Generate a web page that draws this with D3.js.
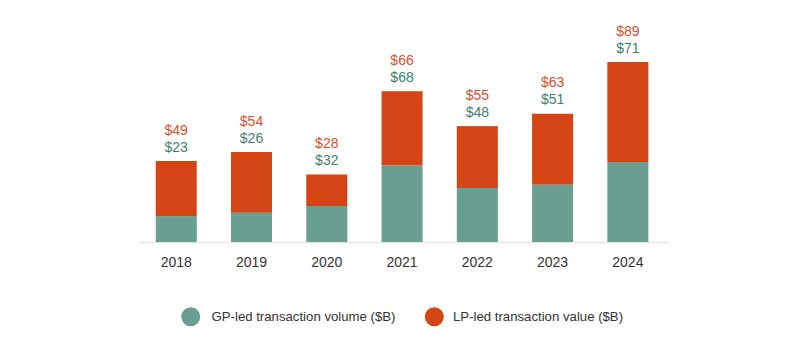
<!DOCTYPE html>
<html><head><meta charset="utf-8">
<script src="https://cdn.jsdelivr.net/npm/d3@7"></script>
<style>body{margin:0;background:#fff}svg{display:block}</style>
</head><body><svg id="c" width="800" height="349"></svg>
<script>
const years = ["2018","2019","2020","2021","2022","2023","2024"];
const gpValues = [23, 26, 32, 68, 48, 51, 71];
const lpValues = [49, 54, 28, 66, 55, 63, 89];
const seriesNames = ["GP-led transaction volume ($B)", "LP-led transaction value ($B)"];
const colors = {gp: "#6a9e90", lp: "#d54414"};
const textColors = {gp: "#3f7f6d", lp: "#d9502a"};

const svg = d3.select("#c");
const font = "'Liberation Sans', Arial, sans-serif";
const x = d3.scaleBand().domain(years).range([138.6, 665.5]).paddingInner(0.455).paddingOuter(0.2275);
const y = d3.scaleLinear().domain([0, 160]).range([242, 62]);

const data = years.map((yr, i) => ({year: yr, gp: gpValues[i], lp: lpValues[i]}));
const stack = d3.stack().keys(["gp", "lp"])(data);

svg.append("line").attr("x1", 140).attr("x2", 668).attr("y1", 242.5).attr("y2", 242.5)
  .attr("stroke", "#e6e6e6").attr("stroke-width", 1.5);

stack.forEach(s => {
  svg.append("g").selectAll("rect").data(s).join("rect")
    .attr("x", d => x(d.data.year))
    .attr("width", x.bandwidth())
    .attr("y", d => y(d[1]))
    .attr("height", d => y(d[0]) - y(d[1]))
    .attr("fill", colors[s.key]);
});

const barTop = data.map(d => y(d.gp + d.lp));
svg.append("g").selectAll("text").data(data).join("text")
  .attr("x", d => x(d.year) + x.bandwidth()/2)
  .attr("y", (d, i) => barTop[i] - 9.5)
  .attr("text-anchor", "middle").attr("font-family", font).attr("font-size", 14)
  .attr("fill", textColors.gp).text(d => "$" + d.gp);
svg.append("g").selectAll("text").data(data).join("text")
  .attr("x", d => x(d.year) + x.bandwidth()/2)
  .attr("y", (d, i) => barTop[i] - 26.5)
  .attr("text-anchor", "middle").attr("font-family", font).attr("font-size", 14)
  .attr("fill", textColors.lp).text(d => "$" + d.lp);

const axis = svg.append("g").attr("transform", "translate(0,242)")
  .call(d3.axisBottom(x).tickSize(0).tickPadding(0));
axis.select(".domain").remove();
axis.selectAll("text").attr("y", 25).attr("dy", 0).attr("font-family", font)
  .attr("font-size", 14).attr("fill", "#333");

const legend = [
  {name: seriesNames[0], color: colors.gp, cx: 190.7, tx: 211.5},
  {name: seriesNames[1], color: colors.lp, cx: 434.3, tx: 453}
];
legend.forEach(l => {
  svg.append("circle").attr("cx", l.cx).attr("cy", 316.7).attr("r", 9.5).attr("fill", l.color);
  svg.append("text").attr("x", l.tx).attr("y", 321).attr("font-family", font)
    .attr("font-size", 13.2).attr("fill", "#333").text(l.name);
});
</script></body></html>
